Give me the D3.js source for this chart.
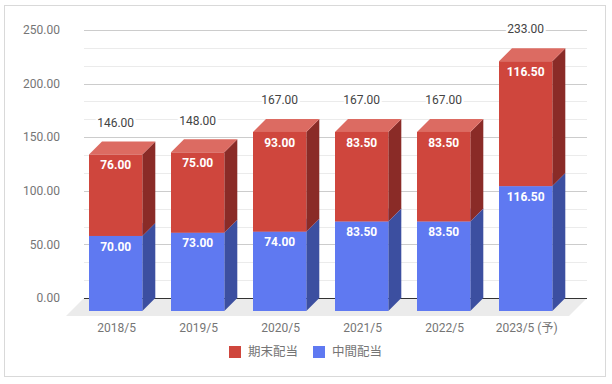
<!DOCTYPE html>
<html>
<head>
<meta charset="utf-8">
<script src="https://cdn.jsdelivr.net/npm/d3@7"></script>
<style>
  body { margin: 0; background: #fff; }
  svg { display: block; font-family: Roboto, "Noto Sans CJK JP", sans-serif; }
</style>
</head>
<body>
<script>
// data
let categories = ['2018/5', '2019/5', '2020/5', '2021/5', '2022/5', '2023/5 (予)']
let interim = [70, 73, 74, 83.5, 83.5, 116.5]     // 中間配当
let yearEnd = [76, 75, 93, 83.5, 83.5, 116.5]     // 期末配当
let totals = [146, 148, 167, 167, 167, 233]
let yTicks = [0, 50, 100, 150, 200, 250]
let seriesNames = ['期末配当', '中間配当']

let W = 612, H = 384
let depth = 13          // 3d offset of the bars
let floorDepth = 18

let colors = {
  blue: {front: '#5f79f1', side: '#3c4fa0', top: '#8ea1f6'},
  red: {front: '#cf463d', side: '#8a2b27', top: '#dc6b62'}
}

let svg = d3.select('body').append('svg').attr('width', W).attr('height', H)

// outer frame
svg.append('rect').attr('x', 4.5).attr('y', 5.5).attr('width', 601).attr('height', 371)
  .attr('fill', '#fff').attr('stroke', '#d9d9d9')

// back wall scale and front scale
let yBack = d3.scaleLinear().domain([0, 250]).range([298, 30])
let yFront = d3.scaleLinear().domain([0, 250]).range([298 + depth, 30 + depth])
let x = d3.scaleBand().domain(categories).range([60.3, 581]).padding(0.35)
let wallL = 84, wallR = 587

// floor
svg.append('polygon')
  .attr('points', [[wallL, yBack(0)], [wallR, yBack(0)], [wallR - floorDepth, yBack(0) + floorDepth], [wallL - floorDepth, yBack(0) + floorDepth]].join(' '))
  .attr('fill', '#ebebeb')

// gridlines on back wall
let minor = []
yTicks.slice(0, -1).forEach(function (t) { minor.push(t + 50 / 3, t + 100 / 3) })
svg.append('g').selectAll('line').data(minor).enter().append('line')
  .attr('x1', wallL).attr('x2', wallR)
  .attr('y1', function (d) { return Math.round(yBack(d)) + 0.5 })
  .attr('y2', function (d) { return Math.round(yBack(d)) + 0.5 })
  .attr('stroke', '#ebebeb')
svg.append('g').selectAll('line').data(yTicks.slice(1)).enter().append('line')
  .attr('x1', wallL).attr('x2', wallR)
  .attr('y1', function (d) { return Math.round(yBack(d)) + 0.5 })
  .attr('y2', function (d) { return Math.round(yBack(d)) + 0.5 })
  .attr('stroke', '#cccccc')
svg.append('line').attr('x1', wallL).attr('x2', wallR)
  .attr('y1', Math.round(yBack(0)) + 0.5).attr('y2', Math.round(yBack(0)) + 0.5)
  .attr('stroke', '#333')

// y labels
svg.append('g').selectAll('text').data(yTicks).enter().append('text')
  .attr('x', 60).attr('y', function (d) { return yBack(d) })
  .attr('dy', '0.35em').attr('text-anchor', 'end')
  .attr('font-size', 12).attr('fill', '#757575')
  .text(function (d) { return d3.format('.2f')(d) })

// bars
let segs = []
categories.forEach(function (c, i) {
  segs.push({c: c, y0: 0, y1: interim[i], v: interim[i], col: colors.blue})
  segs.push({c: c, y0: interim[i], y1: interim[i] + yearEnd[i], v: yearEnd[i], col: colors.red})
})

let bw = x.bandwidth()
let bars = svg.append('g')
segs.forEach(function (s) {
  let x0 = x(s.c), x1 = x0 + bw
  let yt = yFront(s.y1), yb = yFront(s.y0)
  let g = bars.append('g')
  g.append('polygon')
    .attr('points', [[x1, yt], [x1 + depth, yt - depth], [x1 + depth, yb - depth], [x1, yb]].join(' '))
    .attr('fill', s.col.side)
  g.append('polygon')
    .attr('points', [[x0, yt], [x0 + depth, yt - depth], [x1 + depth, yt - depth], [x1, yt]].join(' '))
    .attr('fill', s.col.top)
  g.append('rect').attr('x', x0).attr('y', yt).attr('width', bw).attr('height', yb - yt)
    .attr('fill', s.col.front)
  g.append('text').attr('x', x0 + bw / 2).attr('y', yt + 10.5).attr('dy', '0.35em')
    .attr('text-anchor', 'middle').attr('font-size', 12).attr('font-weight', 'bold')
    .attr('fill', '#fff').text(d3.format('.2f')(s.v))
})

// totals
svg.append('g').selectAll('text').data(categories).enter().append('text')
  .attr('x', function (d) { return x(d) + bw / 2 })
  .attr('y', function (d, i) { return yFront(totals[i]) - 32 })
  .attr('dy', '0.35em').attr('text-anchor', 'middle')
  .attr('font-size', 12).attr('fill', '#444')
  .attr('stroke', '#fff').attr('stroke-width', 5).attr('paint-order', 'stroke')
  .text(function (d, i) { return d3.format('.2f')(totals[i]) })

// x labels
svg.append('g').selectAll('text').data(categories).enter().append('text')
  .attr('x', function (d) { return x(d) + bw / 2 + 1 })
  .attr('y', 328).attr('dy', '0.35em').attr('text-anchor', 'middle')
  .attr('font-size', 12).attr('fill', '#757575')
  .text(function (d) { return d })

// legend
let legendX = [229, 313]
let legendCol = [colors.red.front, colors.blue.front]
let lg = svg.append('g').selectAll('g').data(seriesNames).enter().append('g')
  .attr('transform', function (d, i) { return 'translate(' + legendX[i] + ',352)' })
lg.append('rect').attr('x', 0).attr('y', -6).attr('width', 12).attr('height', 12)
  .attr('fill', function (d, i) { return legendCol[i] })
lg.append('text').attr('x', 19).attr('dy', '0.35em')
  .attr('font-size', 12.5).attr('fill', '#757575')
  .attr('font-family', '"Noto Sans CJK JP", sans-serif')
  .text(function (d) { return d })
</script>
</body>
</html>
